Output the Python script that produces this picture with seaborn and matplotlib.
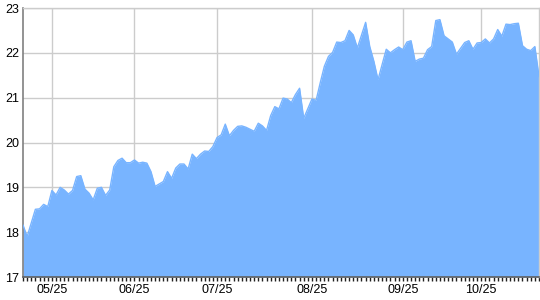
import numpy as np
import pandas as pd
import matplotlib
matplotlib.use("Agg")
import matplotlib.pyplot as plt
from matplotlib.ticker import MultipleLocator
import seaborn as sns

# ---- data (trading-day index, value) ----
day = [0, 1, 3, 4, 5, 6, 7, 8, 9, 10, 11, 12, 13, 14, 15, 16, 17, 18, 19, 20,
       21, 22, 23, 24, 25, 26, 27, 28, 29, 30, 31, 32, 34, 35, 36, 37, 38, 39, 40,
       41, 42, 43, 44, 45, 46, 47, 48, 49, 50, 51, 52, 53, 54, 56, 57, 58, 59, 60,
       61, 62, 63, 64, 65, 66, 67, 68, 70, 71, 72, 73, 74, 75, 76, 77, 78, 79, 80,
       81, 83, 84, 85, 86, 88, 89, 90, 91, 92, 93, 94, 95, 96, 97, 98, 99, 100,
       101, 102, 103, 104, 105, 107, 108, 109, 110, 111, 112, 113, 114, 115, 116,
       117, 118, 119, 120, 121, 122, 123, 124, 125]
value = [18.16, 17.90, 18.51, 18.52, 18.62, 18.57, 18.93, 18.83, 19.00, 18.94,
         18.85, 18.93, 19.24, 19.26, 18.96, 18.87, 18.72, 18.98, 19.00, 18.82,
         18.94, 19.46, 19.60, 19.65, 19.55, 19.55, 19.61, 19.54, 19.56, 19.54,
         19.35, 19.02, 19.13, 19.35, 19.20, 19.43, 19.52, 19.52, 19.41,
         19.74, 19.64, 19.74, 19.81, 19.80, 19.91, 20.11, 20.17, 20.41, 20.15,
         20.27, 20.36, 20.37, 20.34, 20.25, 20.43, 20.37, 20.27, 20.60,
         20.80, 20.75, 20.99, 20.97, 20.89, 21.07, 21.21, 20.54, 20.97, 20.94,
         21.33, 21.70, 21.92, 22.01, 22.24, 22.23, 22.27, 22.50, 22.40,
         22.11, 22.68, 22.14, 21.81, 21.40, 22.08, 22.00, 22.07, 22.13, 22.07,
         22.24, 22.27, 21.81, 21.86, 21.88, 22.07, 22.14, 22.72,
         22.74, 22.38, 22.31, 22.24, 21.97, 22.23, 22.27, 22.08, 22.22, 22.23,
         22.31, 22.22, 22.31, 22.52, 22.37,
         22.64, 22.63, 22.65, 22.66, 22.16, 22.08, 22.05, 22.14, 21.47]

tick_days = [7, 27, 47, 70, 92, 111]
tick_labels = ["05/25", "06/25", "07/25", "08/25", "09/25", "10/25"]
y_ticks = [17, 18, 19, 20, 21, 22, 23]

df = pd.DataFrame({"day": day, "value": value})

sns.set_theme(style="whitegrid")
plt.rcParams["font.family"] = ["Liberation Sans", "DejaVu Sans"]

fig = plt.figure(figsize=(5.4, 3.0), dpi=100)
ax = fig.add_axes([23 / 540, 23 / 300, 516 / 540, 269 / 300])

fill_color = "#78b4ff"
ax.fill_between(df["day"], df["value"], 17, color=fill_color, linewidth=0, zorder=2)
sns.lineplot(data=df, x="day", y="value", ax=ax, color=fill_color, linewidth=1.0, zorder=3)

ax.set_xlim(0, 125)
ax.set_ylim(17, 23)
ax.set_yticks(y_ticks)
ax.set_yticklabels([str(v) for v in y_ticks])
ax.set_xticks(tick_days)
ax.set_xticklabels(tick_labels)
ax.xaxis.set_minor_locator(MultipleLocator(1))

ax.set_xlabel("")
ax.set_ylabel("")
ax.set_facecolor("white")
ax.grid(True, which="major", color="#cccccc", linewidth=1.0)
ax.grid(False, which="minor")
ax.set_axisbelow(True)

for side in ["top", "right"]:
    ax.spines[side].set_visible(True)
    ax.spines[side].set_color("#cccccc")
    ax.spines[side].set_linewidth(1.0)
ax.spines["left"].set_color("#808080")
ax.spines["left"].set_linewidth(1.2)
ax.spines["bottom"].set_color("#606060")
ax.spines["bottom"].set_linewidth(1.2)

ax.tick_params(axis="y", length=0, pad=3, labelsize=9, labelcolor="black")
ax.tick_params(axis="x", which="major", length=3, width=1, color="#202020",
               direction="out", pad=2, labelsize=9, labelcolor="black", bottom=True)
ax.tick_params(axis="x", which="minor", length=3, width=1, color="#202020",
               direction="out", bottom=True)

fig.savefig("out.png", dpi=100, facecolor="white")
